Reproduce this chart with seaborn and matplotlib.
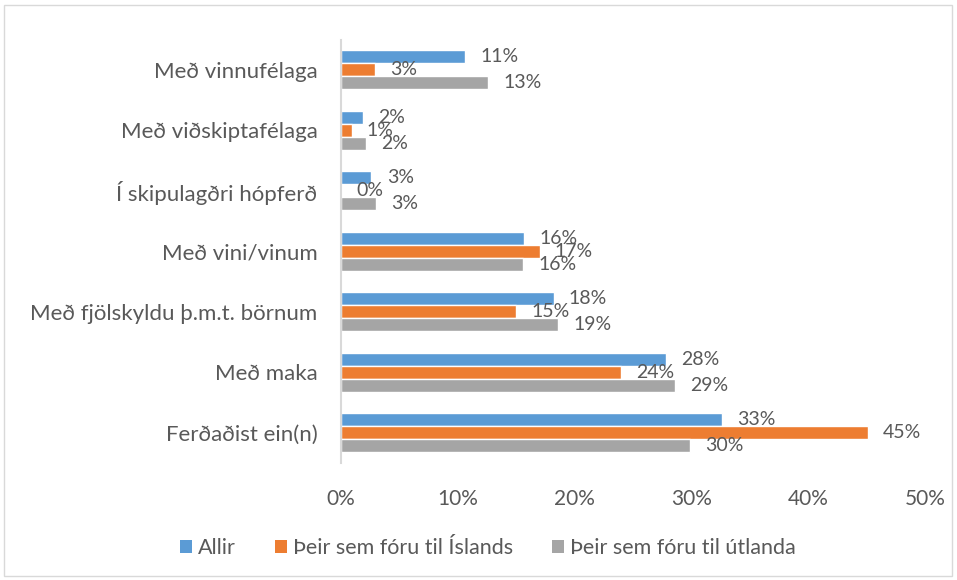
import pandas as pd
import seaborn as sns
import matplotlib.pyplot as plt
from matplotlib.patches import Patch, Rectangle

# Data (percent)
categories = ["Með vinnufélaga", "Með viðskiptafélaga", "Í skipulagðri hópferð",
              "Með vini/vinum", "Með fjölskyldu þ.m.t. börnum", "Með maka", "Ferðaðist ein(n)"]
series = ["Allir", "Þeir sem fóru til Íslands", "Þeir sem fóru til útlanda"]
allir = [10.6, 1.9, 2.6, 15.7, 18.2, 27.8, 32.6]
island = [2.9, 0.9, 0.0, 17.0, 15.0, 24.0, 45.1]
utlond = [12.6, 2.1, 3.0, 15.6, 18.6, 28.6, 29.9]
xticks = [0, 10, 20, 30, 40, 50]

colors = ["#5B9BD5", "#ED7D31", "#A5A5A5"]
text_color = "#595959"

df = pd.DataFrame({
    "cat": categories * 3,
    "group": [s for s in series for _ in categories],
    "value": allir + island + utlond,
})

sns.set_style("white")
plt.rcParams["font.family"] = ["Lato", "DejaVu Sans"]

fig = plt.figure(figsize=(9.57, 5.8), dpi=100)
ax = fig.add_axes([341 / 957, 1 - 463 / 580, (925 - 341) / 957, (463 - 39.5) / 580])

sns.barplot(data=df, y="cat", x="value", hue="group", order=categories,
            hue_order=series, palette=colors, orient="h", width=0.64,
            saturation=1, ax=ax, legend=False)

# Value labels
for container in ax.containers:
    for bar in container:
        w = bar.get_width()
        y = bar.get_y() + bar.get_height() / 2
        ax.annotate(f"{w:.0f}%", (w, y), xytext=(11, 0), textcoords="offset points",
                    ha="left", va="center", fontsize=14, color=text_color)

ax.set_xlim(0, 50)
ax.set_xticks(xticks)
ax.set_xticklabels([f"{t}%" for t in xticks])
ax.set_xlabel("")
ax.set_ylabel("")
ax.tick_params(axis="x", length=0, pad=19, labelsize=15, labelcolor=text_color)
ax.tick_params(axis="y", length=0, pad=17, labelsize=16, labelcolor=text_color)

for s in ["top", "right", "bottom"]:
    ax.spines[s].set_visible(False)
ax.spines["left"].set_color("#D9D9D9")
ax.spines["left"].set_linewidth(1.5)

handles = [Patch(facecolor=c, edgecolor="none") for c in colors]
fig.legend(handles, series, loc="center", bbox_to_anchor=(0.51, 0.055), ncol=3,
           frameon=False, fontsize=15.5, handlelength=0.55, handleheight=0.55,
           handletextpad=0.3, columnspacing=1.8, labelcolor=text_color)

fig.patches.append(Rectangle((4 / 957, 4 / 580), 948 / 957, 571 / 580,
                             transform=fig.transFigure, fill=False,
                             edgecolor="#D9D9D9", linewidth=1))

fig.savefig("out.png", dpi=100)
